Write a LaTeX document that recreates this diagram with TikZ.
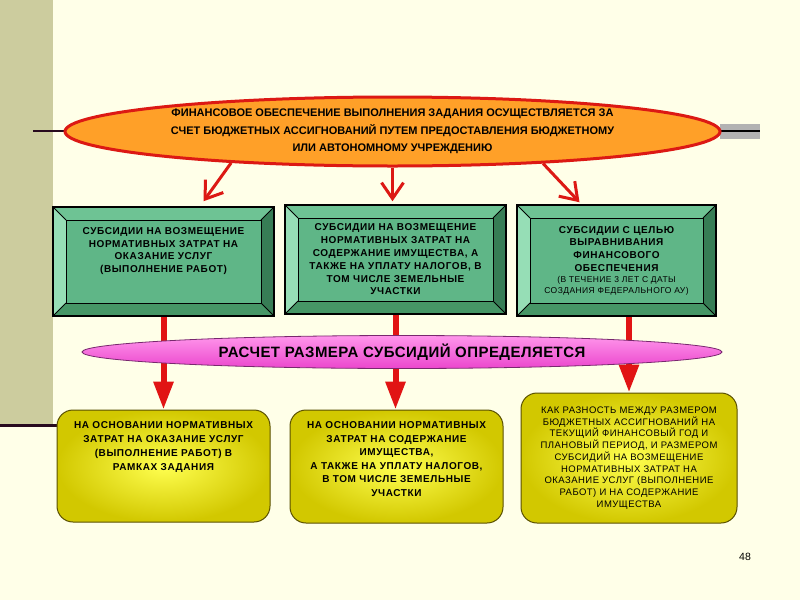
\documentclass[tikz,border=0pt]{standalone}
\usepackage{fontspec}
\setmainfont{Liberation Sans}
\newfontfamily\widefont[LetterSpace=6]{Liberation Sans}
\newfontfamily\semiwide[LetterSpace=5]{Liberation Sans}
\newfontfamily\pinkfont[LetterSpace=3]{Liberation Sans}
\usetikzlibrary{shapes.geometric,arrows.meta,positioning}

\definecolor{cream}{RGB}{255,255,232}
\definecolor{strip}{RGB}{204,204,158}
\definecolor{darkline}{RGB}{40,10,30}
\definecolor{redline}{RGB}{220,25,20}
\definecolor{orangeA}{RGB}{255,160,40}
\definecolor{orangeB}{RGB}{255,195,65}
\definecolor{pinkA}{RGB}{255,150,235}
\definecolor{pinkB}{RGB}{235,70,205}
\definecolor{pinkline}{RGB}{120,40,110}
\definecolor{gface}{RGB}{95,182,135}
\definecolor{gtop}{RGB}{110,195,148}
\definecolor{gleft}{RGB}{150,222,182}
\definecolor{gright}{RGB}{55,125,85}
\definecolor{gbottom}{RGB}{70,150,102}
\definecolor{yinner}{RGB}{255,255,80}
\definecolor{youter}{RGB}{210,200,0}
\definecolor{yline}{RGB}{90,80,0}
\definecolor{barred}{RGB}{225,20,20}

\tikzset{
  ovaltop/.style={ellipse, draw=redline, line width=3pt, top color=orangeA, middle color=orangeB, bottom color=orangeA,
    minimum width=655pt, minimum height=69pt, inner sep=0pt, align=center,
    font=\bfseries\fontsize{11}{17.5}\selectfont},
  ovalpink/.style={ellipse, draw=pinkline, line width=0.8pt, top color=pinkA, bottom color=pinkB,
    minimum width=640pt, minimum height=33pt, inner sep=0pt,
    font=\pinkfont\bfseries\fontsize{15}{16}\selectfont},
  bevelbox/.style={rectangle, draw=black, line width=1.5pt, fill=gface, inner sep=0pt, align=center,
    font=\widefont\bfseries\fontsize{10}{12.8}\selectfont,
    path picture={
      \coordinate (nw) at (path picture bounding box.north west);
      \coordinate (ne) at (path picture bounding box.north east);
      \coordinate (sw) at (path picture bounding box.south west);
      \coordinate (se) at (path picture bounding box.south east);
      \fill[gtop] (nw) -- (ne) -- ([shift={(-13pt,-13pt)}]ne) -- ([shift={(13pt,-13pt)}]nw) -- cycle;
      \fill[gbottom] (sw) -- (se) -- ([shift={(-13pt,13pt)}]se) -- ([shift={(13pt,13pt)}]sw) -- cycle;
      \fill[gleft] (nw) -- (sw) -- ([shift={(13pt,13pt)}]sw) -- ([shift={(13pt,-13pt)}]nw) -- cycle;
      \fill[gright] (ne) -- (se) -- ([shift={(-13pt,13pt)}]se) -- ([shift={(-13pt,-13pt)}]ne) -- cycle;
      \draw[black, line width=1pt] ([shift={(13pt,13pt)}]sw) rectangle ([shift={(-13pt,-13pt)}]ne);
      \draw[black, line width=1pt] (nw) -- ([shift={(13pt,-13pt)}]nw) (ne) -- ([shift={(-13pt,-13pt)}]ne)
        (sw) -- ([shift={(13pt,13pt)}]sw) (se) -- ([shift={(-13pt,13pt)}]se);
    }},
  yellowbox/.style={rectangle, rounded corners=16pt, draw=yline, line width=1pt, inner color=yinner, outer color=youter,
    inner sep=0pt, align=center, font=\widefont\bfseries\fontsize{10}{14}\selectfont},
  veearrow/.style={draw=redline, line width=3pt, -{Straight Barb[length=16pt,width=22pt]}},
  bararrow/.style={draw=barred, line width=6pt, -{Triangle[length=28pt,width=19pt]}}
}

\begin{document}
\begin{tikzpicture}[x=1pt, y=-1pt]
\useasboundingbox (0,0) rectangle (800,600);
\fill[cream] (0,0) rectangle (800,600);
\fill[strip] (0,0) rectangle (53,425);
\draw[darkline, line width=3pt] (0,425) -- (57,425);
\fill[gray!60] (720,124) rectangle (760,139);
\draw[darkline, line width=2pt] (33,131) -- (68,131);
\draw[black, line width=2pt] (716,131) -- (760,131);

% financing
\node[ovaltop] (F) at (392.5,131.5) {ФИНАНСОВОЕ ОБЕСПЕЧЕНИЕ ВЫПОЛНЕНИЯ ЗАДАНИЯ ОСУЩЕСТВЛЯЕТСЯ ЗА\\
СЧЕТ БЮДЖЕТНЫХ АССИГНОВАНИЙ ПУТЕМ ПРЕДОСТАВЛЕНИЯ БЮДЖЕТНОМУ\\
ИЛИ АВТОНОМНОМУ УЧРЕЖДЕНИЮ};

% subsidies
\node[bevelbox, minimum width=221pt, minimum height=109pt] (S1) at (163.5,261.5) {СУБСИДИИ НА ВОЗМЕЩЕНИЕ\\
НОРМАТИВНЫХ ЗАТРАТ НА\\ОКАЗАНИЕ УСЛУГ\\(ВЫПОЛНЕНИЕ РАБОТ)\\[10pt]\mbox{}};
\node[bevelbox, minimum width=221pt, minimum height=109pt] (S2) at (395.5,259.5) {СУБСИДИИ НА ВОЗМЕЩЕНИЕ\\
НОРМАТИВНЫХ ЗАТРАТ НА\\СОДЕРЖАНИЕ ИМУЩЕСТВА, А\\ТАКЖЕ НА УПЛАТУ НАЛОГОВ, В\\ТОМ ЧИСЛЕ ЗЕМЕЛЬНЫЕ\\УЧАСТКИ};
\node[bevelbox, minimum width=199pt, minimum height=111pt] (S3) at (616.5,260.5) {СУБСИДИИ С ЦЕЛЬЮ\\
ВЫРАВНИВАНИЯ\\ФИНАНСОВОГО\\ОБЕСПЕЧЕНИЯ\\[-2pt]
{\semiwide\mdseries\fontsize{8.5}{10}\selectfont (В ТЕЧЕНИЕ 3 ЛЕТ С ДАТЫ}\\[-2pt]
{\semiwide\mdseries\fontsize{8.5}{10}\selectfont СОЗДАНИЯ ФЕДЕРАЛЬНОГО АУ)}};

% calculation bases
\node[yellowbox, minimum width=213pt, minimum height=112pt] (O1) at (163.5,466) {НА ОСНОВАНИИ НОРМАТИВНЫХ\\
ЗАТРАТ НА ОКАЗАНИЕ УСЛУГ\\(ВЫПОЛНЕНИЕ РАБОТ) В\\РАМКАХ ЗАДАНИЯ\\[26pt]\mbox{}};
\node[yellowbox, minimum width=213pt, minimum height=113pt, font=\widefont\bfseries\fontsize{10}{13.5}\selectfont] (O2) at (396.5,466.5) {НА ОСНОВАНИИ НОРМАТИВНЫХ\\
ЗАТРАТ НА СОДЕРЖАНИЕ\\ИМУЩЕСТВА,\\А ТАКЖЕ НА УПЛАТУ НАЛОГОВ,\\В ТОМ ЧИСЛЕ ЗЕМЕЛЬНЫЕ\\УЧАСТКИ\\[2pt]\mbox{}};
\node[yellowbox, minimum width=216pt, minimum height=130pt, font=\semiwide\fontsize{9.5}{11.7}\selectfont] (O3) at (629,458) {КАК РАЗНОСТЬ МЕЖДУ РАЗМЕРОМ\\
БЮДЖЕТНЫХ АССИГНОВАНИЙ НА\\ТЕКУЩИЙ ФИНАНСОВЫЙ ГОД И\\ПЛАНОВЫЙ ПЕРИОД, И РАЗМЕРОМ\\
СУБСИДИЙ НА ВОЗМЕЩЕНИЕ\\НОРМАТИВНЫХ ЗАТРАТ НА\\ОКАЗАНИЕ УСЛУГ (ВЫПОЛНЕНИЕ\\РАБОТ) И НА СОДЕРЖАНИЕ\\ИМУЩЕСТВА};

% connectors
\draw[bararrow] (S1.south) -- (S1.south |- O1.north);
\draw[bararrow] (S2.south) -- (S2.south |- O2.north);
\draw[bararrow] (O3.north |- S3.south) -- (O3.north);

\node[ovalpink] (R) at (402,352) {РАСЧЕТ РАЗМЕРА СУБСИДИЙ ОПРЕДЕЛЯЕТСЯ};

\draw[veearrow] (F.191) -- ([xshift=40pt, yshift=5pt]S1.north);
\draw[veearrow] (F.south) -- ([yshift=3pt]F.south |- S2.north);
\draw[veearrow] (F.348) -- ([xshift=-37pt, yshift=2pt]S3.north);

\node[font=\fontsize{10.5}{12}\selectfont] (P) at (745,557) {48};
\end{tikzpicture}
\end{document}
